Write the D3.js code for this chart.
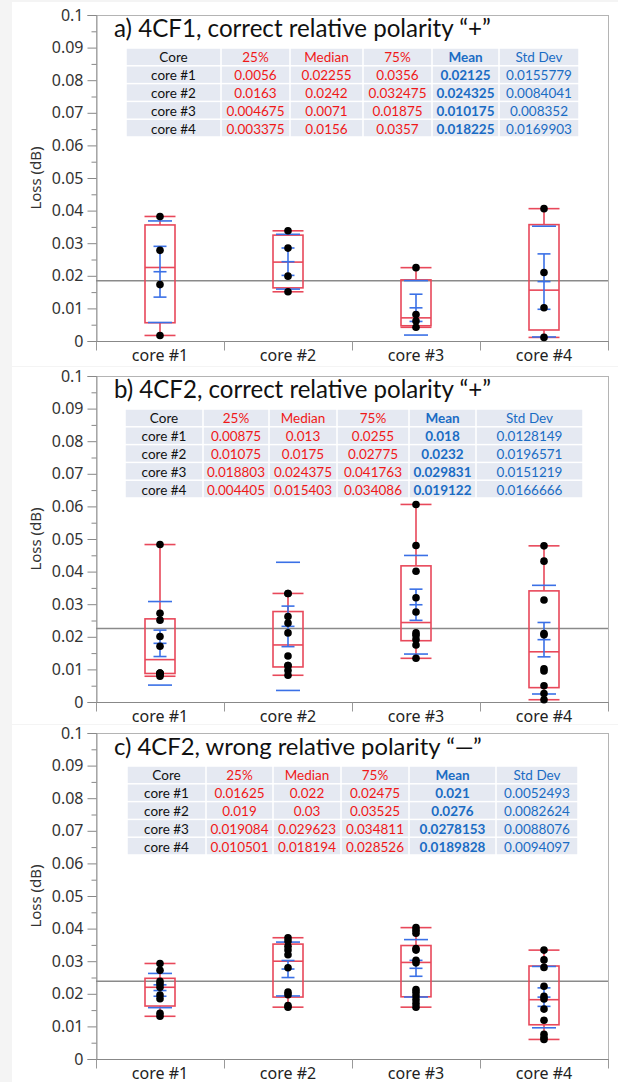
<!DOCTYPE html>
<html>
<head>
<meta charset="utf-8">
<script src="https://cdn.jsdelivr.net/npm/d3@7"></script>
<style>
body{margin:0;background:#f4f4f4;}
svg{display:block;}
</style>
</head>
<body>
<svg id="chart" width="618" height="1082"></svg>
<script>

let cores = ["core #1","core #2","core #3","core #4"];
let titles = ["a) 4CF1, correct relative polarity \u201c+\u201d",
              "b) 4CF2, correct relative polarity \u201c+\u201d",
              "c) 4CF2, wrong relative polarity \u201c\u2014\u201d"];
let headers = ["Core","25%","Median","75%","Mean","Std Dev"];
let yTicks = [0,0.01,0.02,0.03,0.04,0.05,0.06,0.07,0.08,0.09,0.1];
let yTickLabels = ["0","0.01","0.02","0.03","0.04","0.05","0.06","0.07","0.08","0.09","0.1"];

let q25 = [[0.0056,0.0163,0.004675,0.003375],[0.00875,0.01075,0.018803,0.004405],[0.01625,0.019,0.019084,0.010501]];
let medians = [[0.02255,0.0242,0.0071,0.0156],[0.013,0.0175,0.024375,0.015403],[0.022,0.03,0.029623,0.018194]];
let q75 = [[0.0356,0.032475,0.01875,0.0357],[0.0255,0.02775,0.041763,0.034086],[0.02475,0.03525,0.034811,0.028526]];
let means = [[0.02125,0.024325,0.010175,0.018225],[0.018,0.0232,0.029831,0.019122],[0.021,0.0276,0.0278153,0.0189828]];
let stdDevs = [[0.0155779,0.0084041,0.008352,0.0169903],[0.0128149,0.0196571,0.0151219,0.0166666],[0.0052493,0.0082624,0.0088076,0.0094097]];

let pointsA = [
  [0.0017,0.0173,0.0278,0.0382],
  [0.0151,0.0199,0.0285,0.0338],
  [0.0042,0.0061,0.0081,0.0225],
  [0.0011,0.0102,0.0210,0.0406]
];
let pointsB = [
  [0.0079,0.0085,0.0088,0.0088,0.0089,0.0171,0.0201,0.0251,0.0272,0.0483],
  [0.0082,0.0097,0.0112,0.0112,0.0141,0.0212,0.0242,0.0262,0.0333,0.0333],
  [0.0134,0.0175,0.0192,0.0205,0.0212,0.0276,0.0320,0.0401,0.0480,0.0606],
  [0.0007,0.0026,0.0050,0.0095,0.0102,0.0206,0.0210,0.0313,0.0432,0.0479]
];
let pointsC = [
  [0.0131,0.0140,0.0185,0.0196,0.0220,0.0230,0.0238,0.0272,0.0293],
  [0.0159,0.0164,0.0197,0.0205,0.0280,0.0320,0.0334,0.0346,0.0362,0.0372],
  [0.0159,0.0170,0.0182,0.0194,0.0205,0.0213,0.0295,0.0303,0.0334,0.0339,0.0386,0.0395,0.0403],
  [0.0060,0.0066,0.0076,0.0119,0.0153,0.0184,0.0192,0.0223,0.0281,0.0304,0.0334]
];
let points = [pointsA,pointsB,pointsC];

let panelTops = [15,376,733];
let panelBg = [[2,366],[367,724],[725,1082]];
let tableCols = [[126,221,290,363,432,499,579],[125,203,269,337,409,476,583],[127,206,273,341,409,496,578]];
let titleWidths = [377,377,368];

let red = "#e8485a", blue = "#3a70e6", tRed = "#f01818", tBlue = "#1a6cc4";
let plotLeft = 96, plotRight = 608, plotH = 326;

let svg = d3.select("#chart");

let x = d3.scaleBand().domain(cores).range([plotLeft,plotRight]);

for(let p=0;p<3;p++){

  let top = panelTops[p];
  let y = d3.scaleLinear().domain([0,0.1]).range([top+plotH,top]);
  let g = svg.append("g");

  g.append("rect").attr("x",12).attr("y",panelBg[p][0]).attr("width",606).attr("height",panelBg[p][1]-panelBg[p][0]).attr("fill","#fff");

  g.append("rect").attr("x",plotLeft+0.5).attr("y",top+0.5).attr("width",plotRight-plotLeft).attr("height",plotH)
    .attr("fill","#fff").attr("stroke","#b4b4b4");

  // y axis
  let yAxis = d3.axisLeft(y).tickValues(yTicks).tickFormat((d,i)=>yTickLabels[i]).tickSize(9).tickPadding(4);
  let ya = g.append("g").attr("transform","translate("+(plotLeft+0.5)+",0)").call(yAxis);
  ya.select(".domain").attr("stroke","#999");
  ya.selectAll(".tick line").attr("stroke","#888");
  ya.selectAll("text").attr("font-family","Noto Sans").attr("font-size","16px").attr("fill","#333");
  let minor = d3.range(0.005,0.1,0.01);
  ya.selectAll(".minor").data(minor).enter().append("line").attr("class","minor")
    .attr("x1",-5).attr("x2",0).attr("y1",d=>y(d)+0.5).attr("y2",d=>y(d)+0.5).attr("stroke","#888");

  g.append("text").attr("transform","translate(35,"+(top+plotH/2)+") rotate(-90)")
    .attr("text-anchor","middle").attr("dominant-baseline","central")
    .attr("font-family","Noto Sans").attr("font-size","15px").attr("fill","#333").text("Loss (dB)");

  // x axis
  let y0 = y(0)+0.5;
  g.append("line").attr("x1",plotLeft).attr("x2",plotRight+1).attr("y1",y0).attr("y2",y0).attr("stroke","#888");
  g.selectAll(".sep").data(d3.range(0,5)).enter().append("line")
    .attr("x1",d=>plotLeft+0.5+d*x.bandwidth()).attr("x2",d=>plotLeft+0.5+d*x.bandwidth())
    .attr("y1",y0).attr("y2",y0+9).attr("stroke","#999");
  g.selectAll(".xl").data(cores).enter().append("text")
    .attr("x",d=>x(d)+x.bandwidth()/2).attr("y",y0+19)
    .attr("text-anchor","middle").attr("font-family","Noto Sans").attr("font-size","16px").attr("fill","#222")
    .text(d=>d);

  // overall mean
  let grand = d3.mean(means[p]);
  g.append("line").attr("x1",plotLeft).attr("x2",plotRight).attr("y1",y(grand)).attr("y2",y(grand))
    .attr("stroke","#8a8a8a").attr("stroke-width",1.5);

  // title
  let t = g.append("text").attr("x",114).attr("y",top+22).attr("font-family","Lato").attr("font-size","22px")
    .attr("fill","#111").text(titles[p]);
  let w = t.node().getComputedTextLength();
  t.attr("font-size",(22*titleWidths[p]/w)+"px");

  // table
  let cols = tableCols[p];
  let tTop = top+33, rowH = 17.8;
  let rows = [headers].concat(cores.map((c,i)=>[c,q25[p][i],medians[p][i],q75[p][i],means[p][i],stdDevs[p][i]]));
  let colColor = ["#111",tRed,tRed,tRed,tBlue,tBlue];
  rows.forEach((r,ri)=>{
    r.forEach((v,ci)=>{
      g.append("rect").attr("x",cols[ci]+0.75).attr("y",tTop+ri*rowH+0.75)
        .attr("width",cols[ci+1]-cols[ci]-1.5).attr("height",rowH-1.5).attr("fill","#e5e9f2");
      g.append("text").attr("x",(cols[ci]+cols[ci+1])/2).attr("y",tTop+ri*rowH+rowH/2+0.5)
        .attr("text-anchor","middle").attr("dominant-baseline","central")
        .attr("font-family","Lato").attr("font-size","13.5px")
        .attr("font-weight",ci==4?"bold":"normal")
        .attr("fill",colColor[ci]).text(String(v));
    });
  });

  // boxes
  cores.forEach((c,i)=>{
    let cx = x(c)+x.bandwidth()/2;
    let pts = points[p][i];
    let mn = d3.min(pts), mx = d3.max(pts);
    let bg = g.append("g").attr("fill","none").attr("stroke",red).attr("stroke-width",1.6);
    bg.append("line").attr("x1",cx).attr("x2",cx).attr("y1",y(q75[p][i])).attr("y2",y(mx));
    bg.append("line").attr("x1",cx).attr("x2",cx).attr("y1",y(q25[p][i])).attr("y2",y(mn));
    bg.append("line").attr("x1",cx-15.5).attr("x2",cx+15.5).attr("y1",y(mx)).attr("y2",y(mx));
    bg.append("line").attr("x1",cx-15.5).attr("x2",cx+15.5).attr("y1",y(mn)).attr("y2",y(mn));
    bg.append("rect").attr("x",cx-15).attr("width",30).attr("y",y(q75[p][i])).attr("height",y(q25[p][i])-y(q75[p][i]));
    bg.append("line").attr("x1",cx-15).attr("x2",cx+15).attr("y1",y(medians[p][i])).attr("y2",y(medians[p][i]));

    let m = means[p][i], sd = stdDevs[p][i], se = sd/Math.sqrt(pts.length);
    let eg = g.append("g").attr("stroke",blue).attr("stroke-width",1.6);
    [m-sd,m+sd].forEach(v=>{
      eg.append("line").attr("x1",cx-12).attr("x2",cx+12).attr("y1",y(v)).attr("y2",y(v));
    });
    eg.append("line").attr("x1",cx).attr("x2",cx).attr("y1",y(m-se)).attr("y2",y(m+se));
    [m-se,m,m+se].forEach(v=>{
      eg.append("line").attr("x1",cx-6.5).attr("x2",cx+6.5).attr("y1",y(v)).attr("y2",y(v));
    });

    g.selectAll(null).data(pts).enter().append("circle")
      .attr("cx",cx).attr("cy",d=>y(d)).attr("r",3.8).attr("fill","#000");
  });
}

</script>
</body>
</html>
